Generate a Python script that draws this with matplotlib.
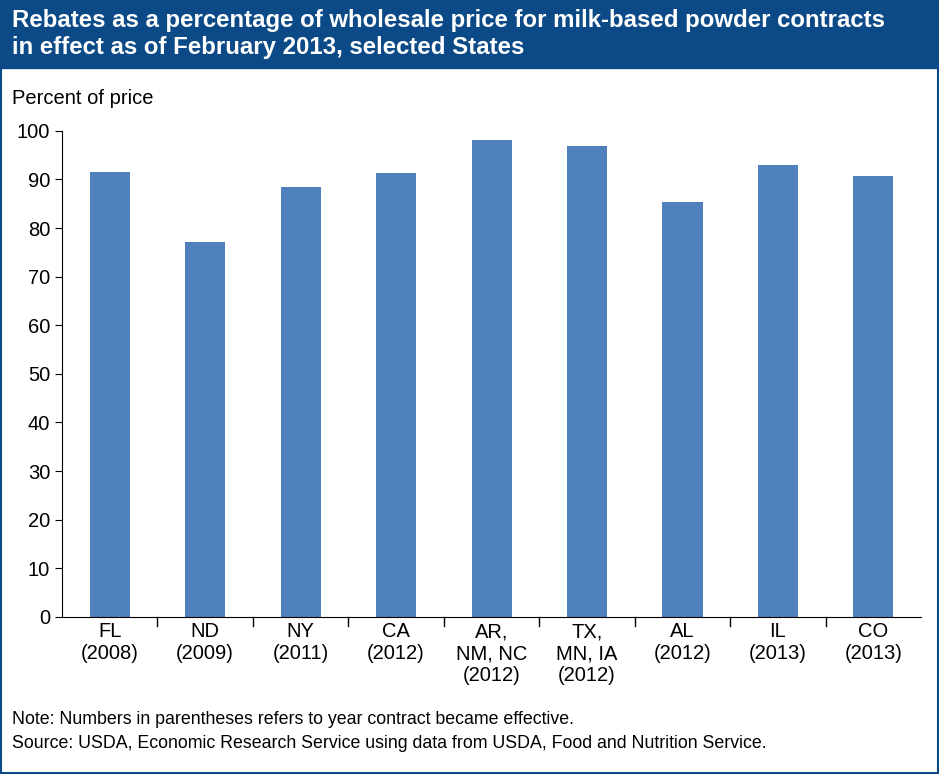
import matplotlib.pyplot as plt
from matplotlib.patches import Rectangle

plt.rcParams['font.family'] = ['Liberation Sans', 'DejaVu Sans']

labels = ['FL\n(2008)', 'ND\n(2009)', 'NY\n(2011)', 'CA\n(2012)', 'AR,\nNM, NC\n(2012)',
          'TX,\nMN, IA\n(2012)', 'AL\n(2012)', 'IL\n(2013)', 'CO\n(2013)']
rebates = [91.5, 77.1, 88.5, 91.3, 98.2, 96.8, 85.3, 93.0, 90.8]

fig = plt.figure(figsize=(9.39, 7.74), dpi=100)
fig.patches.append(Rectangle((0, 0.912), 1, 0.088, transform=fig.transFigure,
                             color='#0b4a86', zorder=0))
fig.patches.append(Rectangle((0.001, 0.001), 0.998, 0.998, transform=fig.transFigure,
                             fill=False, edgecolor='#0b4a86', linewidth=1.5))
fig.text(0.013, 0.956, 'Rebates as a percentage of wholesale price for milk-based powder contracts\n'
         'in effect as of February 2013, selected States', color='white', fontsize=17.3,
         fontweight='bold', va='center', linespacing=1.25)

ax = fig.add_axes([0.066, 0.203, 0.915, 0.628])
ax.bar(range(len(rebates)), rebates, width=0.42, color='#4f81bd')
ax.set_ylim(0, 100)
ax.set_xlim(-0.5, len(rebates) - 0.5)
ax.set_yticks(range(0, 101, 10))
ax.set_xticks(range(len(rebates)))
ax.set_xticklabels(labels, fontsize=14.5, linespacing=1.2)
ax.tick_params(axis='y', labelsize=14.5, length=5)
ax.tick_params(axis='x', length=0, pad=4)
for x in [i + 0.5 for i in range(len(rebates) - 1)]:
    ax.plot([x, x], [0, -1.8], color='black', lw=1, clip_on=False)
ax.spines['top'].set_visible(False)
ax.spines['right'].set_visible(False)
fig.text(0.013, 0.865, 'Percent of price', fontsize=14.5)
fig.text(0.013, 0.055, 'Note: Numbers in parentheses refers to year contract became effective.\n'
         'Source: USDA, Economic Research Service using data from USDA, Food and Nutrition Service.',
         fontsize=12.8, va='center', linespacing=1.5)
fig.savefig('out.png', dpi=100)
